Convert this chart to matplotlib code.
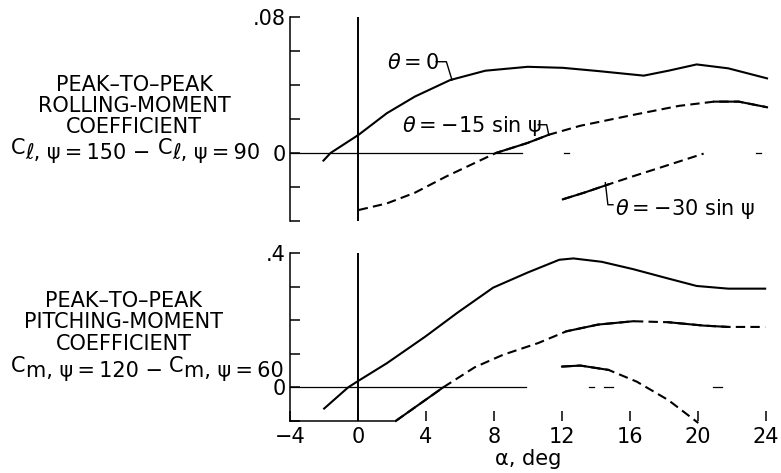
import numpy as np
import matplotlib
matplotlib.use("Agg")
import matplotlib.pyplot as plt
from matplotlib.text import Annotation

plt.rcParams['font.family'] = ['DejaVu Sans']
plt.rcParams['mathtext.fontset'] = 'dejavusans'

# rolling moment (top panel)
alpha_cl0 = [-2.03, -1.61, 0.04, 1.70, 3.35, 5.42, 7.49, 9.98, 12.05, 14.12, 16.81, 18.26, 19.92, 21.78, 24.06]
cl_0 = [-0.0045, 0.0, 0.0107, 0.0234, 0.0332, 0.0429, 0.0484, 0.0507, 0.0501, 0.0482, 0.0455, 0.0484, 0.0521, 0.0498, 0.0439]

alpha_cl15 = [0.04, 1.70, 3.35, 5.22, 6.87, 8.12, 9.98, 11.22, 13.08, 16.19, 18.88, 20.95, 22.4, 24.06]
cl_15 = [-0.0336, -0.0297, -0.0234, -0.0137, -0.0059, 0.0, 0.0059, 0.0107, 0.0160, 0.0224, 0.0277, 0.0302, 0.0302, 0.0269]

alpha_cl30 = [12.05, 13.3, 14.74, 16.19, 17.85, 20.33]
cl_30 = [-0.0273, -0.0234, -0.0185, -0.0137, -0.0084, -0.0004]

# pitching moment (bottom panel)
alpha_cm0 = [-1.99, -0.58, 0.04, 1.70, 3.98, 5.84, 7.95, 9.98, 11.84, 12.67, 14.33, 16.19, 18.26, 19.92, 21.78, 23.95]
cm_0 = [-0.063, 0.0, 0.020, 0.072, 0.152, 0.222, 0.297, 0.342, 0.380, 0.384, 0.374, 0.352, 0.324, 0.302, 0.294, 0.294]

alpha_cm15 = [2.22, 5.01, 6.87, 8.53, 10.6, 12.26, 14.12, 16.19, 18.26, 20.33, 21.78, 23.95]
cm_15 = [-0.100, 0.0, 0.060, 0.097, 0.132, 0.167, 0.187, 0.197, 0.194, 0.184, 0.180, 0.180]

alpha_cm30 = [12.0, 13.08, 14.74, 16.4, 18.26, 20.02]
cm_30 = [0.062, 0.065, 0.052, 0.017, -0.038, -0.106]

# parts of the faired curves drawn solid (rest dashed)
solid_cl15 = [(8.12, 11.22), (20.95, 24.1)]
solid_cl30 = [(12.0, 14.74)]
solid_cm15 = [(2.2, 5.01), (12.26, 16.19), (18.26, 21.78)]
solid_cm30 = [(12.0, 14.74)]

xticks = [-4, 0, 4, 8, 12, 16, 20, 24]
LW = 1.5
FS = 15
TS = '\u2009'  # thin space, the lettering is set tight round "="


def curve(ax, a, v, solid=None):
    a = np.array(a); v = np.array(v)
    if solid is None:
        ax.plot(a, v, color='black', lw=LW, clip_on=False)
        return
    ax.plot(a, v, color='black', lw=LW, dashes=(4.5, 2.5), clip_on=False)
    for lo, hi in solid:
        m = (a >= lo) & (a <= hi)
        ax.plot(a[m], v[m], color='black', lw=LW, clip_on=False)


def zero_line(ax, stop, bits):
    ax.plot([-4, stop], [0, 0], color='black', lw=0.9)
    for lo, hi in bits:
        ax.plot([lo, hi], [0, 0], color='black', lw=0.9)


fig = plt.figure(figsize=(7.81, 4.73), dpi=100)
ax1 = fig.add_axes([0.3713, 0.533, 0.6095, 0.431])
ax2 = fig.add_axes([0.3713, 0.110, 0.6095, 0.355])

for ax in (ax1, ax2):
    for s in ('top', 'right', 'bottom'):
        ax.spines[s].set_visible(False)
    ax.spines['left'].set_linewidth(1.1)
    ax.set_xlim(-4, 24)
    ax.tick_params(axis='y', direction='in', length=7, width=1.1, labelsize=15, pad=3)
    ax.patch.set_alpha(0)

# top panel
ax1.set_ylim(-0.04, 0.08)
ax1.set_yticks([-0.04, -0.02, 0, 0.02, 0.04, 0.06, 0.08])
ax1.set_yticklabels(['', '', '0', '', '', '', '.08'])
ax1.set_xticks([])
ax1.plot([0, 0], [-0.04, 0.08], color='black', lw=1.4)
zero_line(ax1, 9.67, [(12.1, 12.4), (23.4, 23.7)])
curve(ax1, alpha_cl0, cl_0)
curve(ax1, alpha_cl15, cl_15, solid_cl15)
curve(ax1, alpha_cl30, cl_30, solid_cl30)

ax1.text(1.7, 0.0527, r'$\theta$' + TS + '=' + TS + '0', fontsize=FS, va='center', ha='left')
ax1.plot([4.6, 5.2, 5.53], [0.0537, 0.0537, 0.0429], color='black', lw=1.0)
ax1.text(2.6, 0.0156, r'$\theta$' + TS + '=' + TS + '−15 sin ψ', fontsize=FS, va='center', ha='left')
ax1.plot([10.6, 11.1, 11.22], [0.0166, 0.0166, 0.0107], color='black', lw=1.0)
ax1.text(15.1, -0.0332, r'$\theta$' + TS + '=' + TS + '−30 sin ψ', fontsize=FS, va='center', ha='left')
ax1.plot([14.55, 14.7, 15.0], [-0.0175, -0.0305, -0.0305], color='black', lw=1.0)

# bottom panel
ax2.set_ylim(-0.1, 0.4)
ax2.set_yticks([-0.1, 0, 0.1, 0.2, 0.3, 0.4])
ax2.set_yticklabels(['', '0', '', '', '', '.4'])
ax2.set_xticks(xticks)
ax2.set_xticklabels([str(t) if t >= 0 else '−4' for t in xticks])
ax2.tick_params(axis='x', direction='in', length=7, width=1.1, labelsize=15, pad=4)
ax2.plot([-4, 2.1], [-0.1, -0.1], color='black', lw=1.1, clip_on=False)
ax2.plot([0, 0], [-0.1, 0.4], color='black', lw=1.4)
zero_line(ax2, 9.9, [(13.6, 13.9), (14.5, 15.0), (20.9, 21.4)])
curve(ax2, alpha_cm0, cm_0)
curve(ax2, alpha_cm15, cm_15, solid_cm15)
curve(ax2, alpha_cm30, cm_30, solid_cm30)
ax2.set_xlabel('α, deg', fontsize=15, labelpad=2)


# left-hand captions
def caption(xc, ys, lines):
    for y, s in zip(ys, lines):
        fig.text(xc / 781, 1 - y / 473, s, fontsize=FS, ha='center', va='center')


def formula(x0, y0, sub1, sub2):
    # "C" sits a little above the rest of the line, as in the lettering
    t = fig.text(x0 / 781, 1 - y0 / 473, 'C', fontsize=FS, va='bottom', ha='left')
    for s, dy in [(sub1, -3.5), ('C', 3.5), (sub2, -3.5)]:
        t = fig.add_artist(Annotation(s, xy=(1, 0), xycoords=t, xytext=(0, dy),
                                      textcoords='offset points', fontsize=FS,
                                      va='bottom', ha='left'))


caption(134, [85, 106, 127], ['PEAK–TO–PEAK', 'ROLLING-MOMENT', 'COEFFICIENT'])
formula(11, 158, 'ℓ, ψ' + TS + '=' + TS + '150 − ', 'ℓ, ψ' + TS + '=' + TS + '90')
caption(124, [301, 322, 344], ['PEAK–TO–PEAK', 'PITCHING-MOMENT', 'COEFFICIENT'])
formula(11, 376, 'm, ψ' + TS + '=' + TS + '120 − ', 'm, ψ' + TS + '=' + TS + '60')

fig.savefig('out.png', dpi=100)
